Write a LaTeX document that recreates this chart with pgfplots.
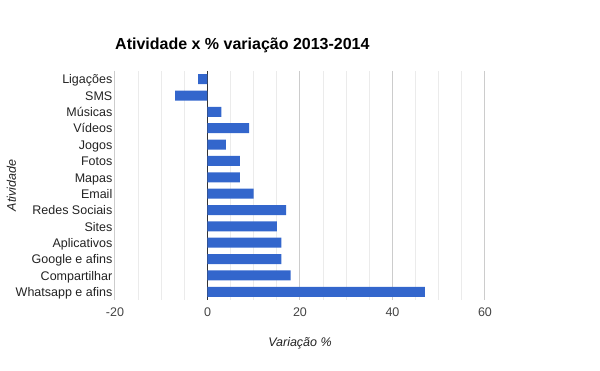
\documentclass[border=0pt]{standalone}
\usepackage{fontspec}
\setmainfont{Liberation Sans}
\usepackage{pgfplots}
\pgfplotsset{compat=1.18}
\definecolor{barblue}{HTML}{3366CC}
\definecolor{gridmajor}{HTML}{CCCCCC}
\definecolor{gridminor}{HTML}{EBEBEB}
\definecolor{zeroline}{HTML}{333333}
\definecolor{ticktext}{HTML}{444444}
\definecolor{labtext}{HTML}{222222}
\begin{document}
\begin{tikzpicture}[x=1pt,y=1pt]
\useasboundingbox (0,0) rectangle (600,371);
\node[anchor=base west, inner sep=0pt, font=\fontsize{16}{19}\selectfont\bfseries] at (115,321) {Atividade x \% variação 2013-2014};
\begin{axis}[
  at={(115pt,71pt)}, anchor=south west,
  scale only axis, width=370pt, height=229pt,
  xbar, bar width=10pt,
  xmin=-20, xmax=60, ymin=-0.5, ymax=13.5, y dir=reverse,
  xtick={-20,0,20,40,60}, minor x tick num=3,
  xmajorgrids, xminorgrids,
  major grid style={draw=gridmajor, line width=1pt},
  minor grid style={draw=gridminor, line width=1pt},
  extra x ticks={0}, extra x tick labels={},
  extra x tick style={major grid style={draw=zeroline, line width=1pt}},
  ytick={0,...,13},
  yticklabels={Ligações,SMS,Músicas,Vídeos,Jogos,Fotos,Mapas,Email,Redes Sociais,Sites,Aplicativos,Google e afins,Compartilhar,Whatsapp e afins},
  axis line style={draw=none}, tick style={draw=none},
  major tick length=0pt, minor tick length=0pt,
  /pgf/number format/assume math mode=true,
  xticklabel style={font=\fontsize{12.5}{15}\selectfont, text=ticktext, anchor=base, inner sep=0pt, yshift=-17pt},
  yticklabel style={font=\fontsize{12.5}{15}\selectfont, text=labtext, anchor=base east, inner sep=0pt, xshift=-2.5pt, yshift=-4.7pt},
  xlabel={Variação \%},
  xlabel style={font=\fontsize{12.5}{15}\selectfont\itshape, text=labtext, at={(axis description cs:0.5,-0.2052)}, anchor=base, inner sep=0pt},
  ylabel={Atividade},
  ylabel style={font=\fontsize{12.5}{15}\selectfont\itshape, text=labtext, at={(axis description cs:-0.2676,0.5)}, anchor=base, inner sep=0pt},
]
\addplot[fill=barblue, draw=none] coordinates {
 (-2,0) (-7,1) (3,2) (9,3) (4,4) (7,5) (7,6) (10,7) (17,8) (15,9) (16,10) (16,11) (18,12) (47,13)
};
\end{axis}
\end{tikzpicture}
\end{document}
